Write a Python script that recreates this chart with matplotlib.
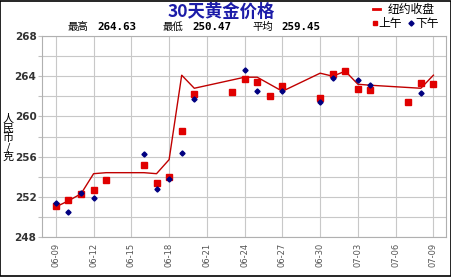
import numpy as np
import pandas as pd
import matplotlib
matplotlib.use("Agg")
import matplotlib.pyplot as plt
from matplotlib.patches import Rectangle

plt.rcParams["font.family"] = ["Noto Sans CJK SC", "DejaVu Sans"]

# ---- data (CNY / gram) ----
ny_dates = ["06-09", "06-10", "06-11", "06-12", "06-13", "06-16", "06-17", "06-18",
            "06-19", "06-20", "06-24", "06-25", "06-27", "06-30", "07-01", "07-02",
            "07-03", "07-04", "07-08", "07-09"]
ny_close = [251.0, 251.6, 252.3, 254.3, 254.4, 254.4, 254.3, 255.7,
            264.1, 262.8, 263.9, 263.9, 262.5, 264.3, 264.0, 264.5,
            263.2, 263.1, 262.8, 264.1]

am_dates = ["06-09", "06-10", "06-11", "06-12", "06-13", "06-16", "06-17", "06-18",
            "06-19", "06-20", "06-23", "06-24", "06-25", "06-26", "06-27", "06-30",
            "07-01", "07-02", "07-03", "07-04", "07-07", "07-08", "07-09"]
am_price = [251.07, 251.67, 252.27, 252.67, 253.67, 255.17, 253.37, 253.97,
            258.57, 262.27, 262.47, 263.70, 263.47, 262.07, 263.00, 261.87,
            264.17, 264.50, 262.70, 262.67, 261.47, 263.37, 263.27]

pm_dates = ["06-09", "06-10", "06-11", "06-12", "06-16", "06-17", "06-18", "06-19",
            "06-20", "06-24", "06-25", "06-27", "06-30", "07-01", "07-03", "07-04",
            "07-08"]
pm_price = [251.37, 250.47, 252.35, 251.87, 256.27, 252.77, 253.77, 256.37,
            261.77, 264.63, 262.57, 262.57, 261.47, 263.87, 263.67, 263.17,
            262.37]

tick_dates = ["06-09", "06-12", "06-15", "06-18", "06-21", "06-24", "06-27",
              "06-30", "07-03", "07-06", "07-09"]
stats = [("最高", "264.63"), ("最低", "250.47"), ("平均", "259.45")]


def to_dt(lst):
    return pd.to_datetime(["2008-" + d for d in lst])


fig = plt.figure(figsize=(4.52, 2.77), dpi=100)
ax = fig.add_axes([42 / 452, 1 - 237 / 277, 404 / 452, 201 / 277])

ax.plot(to_dt(ny_dates), ny_close, color="#c00000", lw=1.0, zorder=3)
ax.plot(to_dt(am_dates), am_price, ls="none", marker="s", ms=3.8,
        color="#e00000", mec="#e00000", zorder=4)
ax.plot(to_dt(pm_dates), pm_price, ls="none", marker="D", ms=2.6,
        color="#000080", mec="#000080", zorder=5)

t0 = pd.Timestamp("2008-06-09")
ax.set_xlim(t0 - pd.Timedelta(days=1.1), t0 + pd.Timedelta(days=31.0))
ax.set_ylim(248, 268)
ax.set_xticks(to_dt(tick_dates))
ax.set_xticklabels(tick_dates, rotation=90, fontsize=6, color="#555555",
                   family="DejaVu Sans")
ax.set_yticks(np.arange(248, 269, 2))
ax.set_yticklabels([str(v) if v % 4 == 0 else "" for v in range(248, 269, 2)],
                   fontsize=7.5, fontweight="bold", color="#333333",
                   family="DejaVu Sans")
ax.tick_params(length=3, color="#c0c0c0", pad=1)
ax.tick_params(axis="x", length=0, pad=4)
ax.grid(True, color="#c8c8c8", lw=0.8)
ax.set_axisbelow(True)
for s in ax.spines.values():
    s.set_color("#b0b0b0")
    s.set_linewidth(0.8)

# y label, stacked characters
fig.text(8 / 452, 1 - 138 / 277, "人\n民\n币\n/\n克", ha="center", va="center",
         fontsize=8, linespacing=0.92)

# title and stats
fig.text(221 / 452, 1 - 12 / 277, "30天黄金价格", ha="center", va="center",
         fontsize=12.5, fontweight="bold", color="#1c1ca8")
for (lab, val), x in zip(stats, [68, 163, 252]):
    fig.text(x / 452, 1 - 27 / 277, lab, ha="left", va="center", fontsize=7.5)
    fig.text((x + 29) / 452, 1 - 27 / 277, val, ha="left", va="center",
             fontsize=7.8, fontweight="bold", family="DejaVu Sans Mono")

# legend
fig.add_artist(plt.Line2D([373 / 452, 380 / 452], [1 - 9 / 277] * 2,
                          color="#e00000", lw=2))
fig.text(388 / 452, 1 - 9 / 277, "纽约收盘", ha="left", va="center", fontsize=8.5)
fig.add_artist(plt.Line2D([375 / 452], [1 - 23 / 277], marker="s", ms=3.5,
                          color="#e00000", ls="none"))
fig.text(378 / 452, 1 - 23 / 277, "上午", ha="left", va="center", fontsize=8.5)
fig.add_artist(plt.Line2D([411 / 452], [1 - 23 / 277], marker="D", ms=2.6,
                          color="#000080", ls="none"))
fig.text(415 / 452, 1 - 23 / 277, "下午", ha="left", va="center", fontsize=8.5)

fig.add_artist(Rectangle((0.001, 0.002), 0.997, 0.996, transform=fig.transFigure,
                         fill=False, ec="black", lw=1.2))
fig.savefig("out.png", dpi=100)
